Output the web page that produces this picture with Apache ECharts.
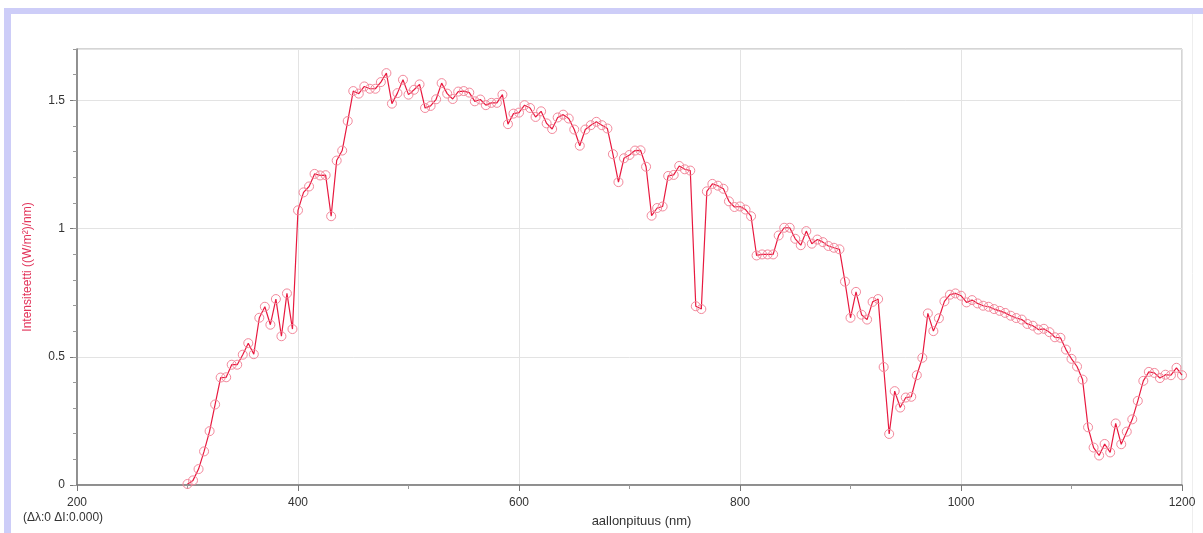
<!DOCTYPE html>
<html>
<head>
<meta charset="utf-8">
<script src="https://cdn.jsdelivr.net/npm/echarts@6/dist/echarts.min.js"></script>
<style>
html, body { margin: 0; padding: 0; background: #fff; }
#chart { width: 1203px; height: 533px; }
</style>
</head>
<body>
<div id="chart"></div>
<script>
// aallonpituus (nm)
var wavelength = [
	300, 305, 310, 315, 320, 325, 330, 335, 340, 345, 350, 355, 360, 365, 370, 375, 380, 385, 390, 395,
	400, 405, 410, 415, 420, 425, 430, 435, 440, 445, 450, 455, 460, 465, 470, 475, 480, 485, 490, 495,
	500, 505, 510, 515, 520, 525, 530, 535, 540, 545, 550, 555, 560, 565, 570, 575, 580, 585, 590, 595,
	600, 605, 610, 615, 620, 625, 630, 635, 640, 645, 650, 655, 660, 665, 670, 675, 680, 685, 690, 695,
	700, 705, 710, 715, 720, 725, 730, 735, 740, 745, 750, 755, 760, 765, 770, 775, 780, 785, 790, 795,
	800, 805, 810, 815, 820, 825, 830, 835, 840, 845, 850, 855, 860, 865, 870, 875, 880, 885, 890, 895,
	900, 905, 910, 915, 920, 925, 930, 935, 940, 945, 950, 955, 960, 965, 970, 975, 980, 985, 990, 995,
	1000, 1005, 1010, 1015, 1020, 1025, 1030, 1035, 1040, 1045, 1050, 1055, 1060, 1065, 1070, 1075, 1080, 1085, 1090, 1095,
	1100, 1105, 1110, 1115, 1120, 1125, 1130, 1135, 1140, 1145, 1150, 1155, 1160, 1165, 1170, 1175, 1180, 1185, 1190, 1195,
	1200
];
// Intensiteetti ((W/m²)/nm)
var intensity = [
	0.004, 0.018, 0.062, 0.131, 0.210, 0.314, 0.419, 0.420, 0.469, 0.469, 0.508, 0.553, 0.510, 0.652, 0.695, 0.625, 0.725, 0.580, 0.747, 0.608,
	1.071, 1.141, 1.164, 1.213, 1.207, 1.208, 1.048, 1.265, 1.304, 1.419, 1.536, 1.526, 1.554, 1.545, 1.545, 1.571, 1.606, 1.487, 1.528, 1.580,
	1.522, 1.541, 1.562, 1.470, 1.478, 1.504, 1.567, 1.526, 1.505, 1.534, 1.536, 1.530, 1.496, 1.503, 1.481, 1.490, 1.490, 1.522, 1.407, 1.448,
	1.452, 1.481, 1.470, 1.435, 1.457, 1.410, 1.388, 1.433, 1.444, 1.429, 1.386, 1.323, 1.386, 1.403, 1.416, 1.403, 1.390, 1.290, 1.181, 1.274,
	1.287, 1.304, 1.305, 1.241, 1.050, 1.080, 1.086, 1.205, 1.209, 1.244, 1.231, 1.226, 0.697, 0.686, 1.145, 1.174, 1.167, 1.155, 1.106, 1.084,
	1.086, 1.074, 1.048, 0.895, 0.899, 0.899, 0.899, 0.973, 1.003, 1.003, 0.960, 0.935, 0.990, 0.941, 0.957, 0.947, 0.932, 0.925, 0.919, 0.793,
	0.652, 0.753, 0.664, 0.645, 0.714, 0.725, 0.460, 0.199, 0.366, 0.302, 0.341, 0.344, 0.428, 0.496, 0.669, 0.600, 0.650, 0.716, 0.742, 0.747,
	0.738, 0.712, 0.721, 0.708, 0.699, 0.695, 0.686, 0.679, 0.671, 0.660, 0.651, 0.645, 0.628, 0.621, 0.606, 0.609, 0.596, 0.576, 0.574, 0.528,
	0.492, 0.462, 0.411, 0.225, 0.146, 0.115, 0.160, 0.127, 0.240, 0.159, 0.208, 0.256, 0.328, 0.406, 0.441, 0.437, 0.417, 0.430, 0.428, 0.457,
	0.428
];

var points = [];
for (var i = 0; i < wavelength.length; i++) {
	points.push([wavelength[i], intensity[i]]);
}

var chart = echarts.init(document.getElementById('chart'));
var font = 'Liberation Sans, Arial, sans-serif';
var option = {
	animation: false,
	backgroundColor: '#fff',
	textStyle: { fontFamily: font },
	grid: {
		left: 77,
		right: 21,
		top: 49,
		bottom: 46,
		show: true,
		borderColor: '#aaa',
		borderWidth: 1
	},
	graphic: [
		{ type: 'rect', shape: { x: 4, y: 8, width: 1199, height: 6 }, style: { fill: '#cdcdf8' } },
		{ type: 'rect', shape: { x: 4, y: 8, width: 7, height: 525 }, style: { fill: '#cdcdf8' } },
		{ type: 'line', shape: { x1: 1192.5, y1: 14, x2: 1192.5, y2: 533 }, style: { stroke: '#eeeeee', lineWidth: 1 } },
		{
			type: 'text', left: 23, top: 512,
			style: { text: '(Δλ:0 ΔI:0.000)', fill: '#333', font: '12px ' + font }
		}
	],
	xAxis: {
		type: 'value',
		min: 200,
		max: 1200,
		interval: 200,
		name: 'aallonpituus (nm)',
		nameLocation: 'middle',
		nameGap: 30,
		nameTextStyle: { color: '#333', fontSize: 13, padding: [0, 0, 0, 24] },
		axisLine: { show: true, onZero: false, lineStyle: { color: '#777', width: 1.5 } },
		axisTick: { show: true, length: 6, lineStyle: { color: '#777' } },
		minorTick: { show: true, splitNumber: 2, length: 4, lineStyle: { color: '#999' } },
		axisLabel: { color: '#333', fontSize: 12, margin: 12, formatter: function (v) { return String(v); } },
		splitLine: { show: true, lineStyle: { color: '#e3e3e3' } }
	},
	yAxis: [
		{
			type: 'value',
			position: 'left',
			min: 0,
			max: 1.7,
			interval: 0.5,
			name: 'Intensiteetti ((W/m²)/nm)',
			nameLocation: 'middle',
			nameGap: 43,
			nameRotate: 90,
			nameTextStyle: { color: '#e2345a', fontSize: 12 },
			axisLine: { show: true, lineStyle: { color: '#777', width: 1.5 } },
			axisTick: { show: true, length: 7, lineStyle: { color: '#777' } },
			axisLabel: {
				color: '#333', fontSize: 12, margin: 12, showMaxLabel: false,
				formatter: function (v) { return Math.abs(v * 2 - Math.round(v * 2)) < 1e-6 ? String(v) : ''; }
			},
			splitLine: { show: true, lineStyle: { color: '#e3e3e3' } }
		},
		{
			type: 'value',
			position: 'left',
			offset: 0,
			min: 0,
			max: 1.7,
			interval: 0.1,
			axisLine: { show: false },
			axisTick: { show: true, length: 4, lineStyle: { color: '#999' } },
			axisLabel: { show: false },
			splitLine: { show: false }
		}
	],
	series: [
		{
			name: 'Intensiteetti',
			type: 'line',
			data: points,
			symbol: 'circle',
			symbolSize: 9,
			showAllSymbol: true,
			lineStyle: { color: '#e8193f', width: 1.2 },
			itemStyle: { color: 'rgba(0,0,0,0)', borderColor: '#f3899c', borderWidth: 1 }
		}
	]
};
chart.setOption(option);
</script>
</body>
</html>
